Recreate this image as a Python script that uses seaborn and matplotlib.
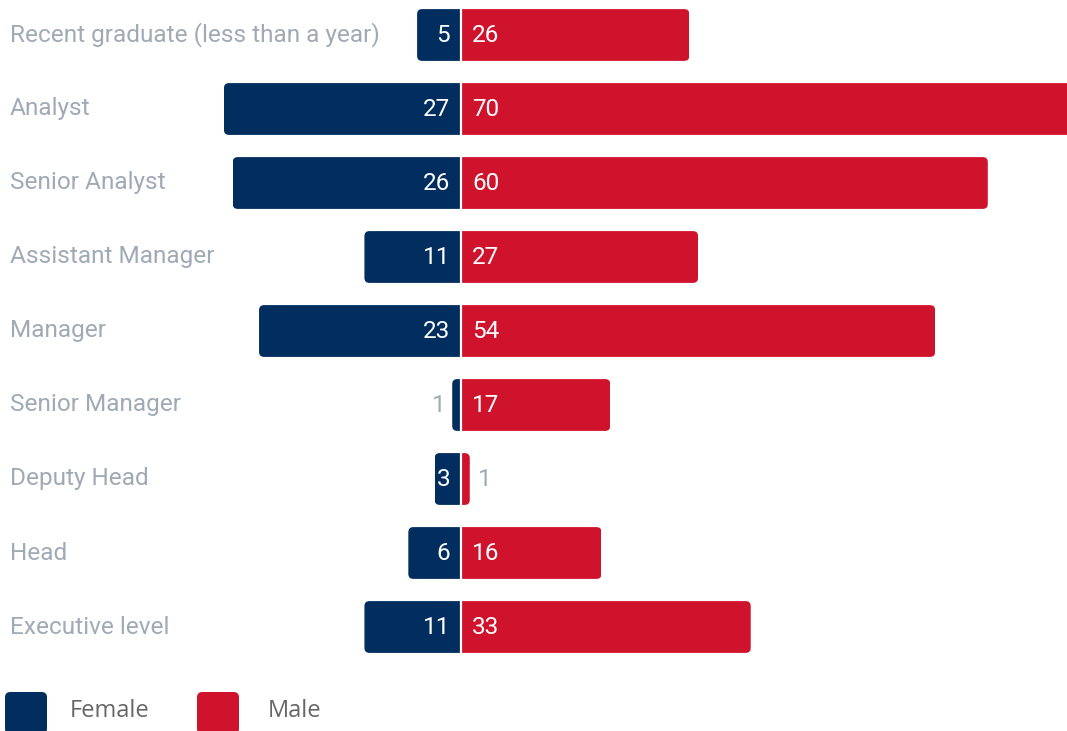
import matplotlib
matplotlib.use("Agg")
import matplotlib.pyplot as plt
from matplotlib.patches import FancyBboxPatch, Rectangle
from matplotlib.transforms import blended_transform_factory
import pandas as pd
import seaborn as sns

# Headcount by grade and gender
roles = [
    "Recent graduate (less than a year)",
    "Analyst",
    "Senior Analyst",
    "Assistant Manager",
    "Manager",
    "Senior Manager",
    "Deputy Head",
    "Head",
    "Executive level",
]
female = [5, 27, 26, 11, 23, 1, 3, 6, 11]
male = [26, 70, 60, 27, 54, 17, 1, 16, 33]
genders = ["Female", "Male"]

NAVY = "#012e5e"
RED = "#d0132d"
LABEL_GREY = "#a0aab5"
LEGEND_GREY = "#666666"

sns.set_theme(style="white")
plt.rcParams["font.family"] = ["Roboto", "DejaVu Sans"]

W, H, DPI = 1067, 731, 100
fig = plt.figure(figsize=(W / DPI, H / DPI), dpi=DPI)
ax = fig.add_axes([0, 0, 1, 1])

df = pd.DataFrame({
    "role": roles * 2,
    "gender": ["Female"] * len(roles) + ["Male"] * len(roles),
    "value": female + male,
})
df["signed"] = df.apply(lambda r: -r["value"] if r["gender"] == "Female" else r["value"], axis=1)

sns.barplot(data=df, y="role", x="signed", hue="gender", hue_order=genders,
            order=roles, dodge=False, palette=[NAVY, RED], saturation=1,
            width=0.70, orient="h", legend=False, ax=ax)

# axis ranges: centre line sits 461 px from the left, rows 74 px apart
px_per_x = 8.78
x_left = -461 / px_per_x
x_right = (W - 461) / px_per_x
row_px = 74.0
y_top = -35 / row_px
y_bot = (H - 35) / row_px
ax.set_xlim(x_left, x_right)
ax.set_ylim(y_bot, y_top)
ax.axis("off")

# replace plain bars with ones rounded on the outer end only
xu = 1 / px_per_x
yu = 1 / row_px
radius = 5 * xu
aspect = yu / xu
bars = list(ax.patches)
for p in bars:
    x, y, w, h = p.get_x(), p.get_y(), p.get_width(), p.get_height()
    if w == 0:
        continue
    col = p.get_facecolor()
    p.set_visible(False)
    x0, x1 = min(x, x + w), max(x, x + w)
    ext = 2 * radius
    bx0 = x0 - ext if x0 >= 0 else x0
    bx1 = x1 if x0 >= 0 else x1 + ext
    rb = FancyBboxPatch((bx0, y), bx1 - bx0, h,
                        boxstyle=f"round,pad=0,rounding_size={radius}",
                        mutation_aspect=aspect, facecolor=col,
                        edgecolor="none", zorder=3)
    ax.add_patch(rb)
    clip = Rectangle((x0, y - h), x1 - x0, 3 * h, transform=ax.transData)
    rb.set_clip_path(clip)

# thin white separator at zero
ax.axvline(0, color="white", lw=1.6, zorder=4)

# value labels
VFS = 17.5
gap = 11 * xu
for i, (f, m) in enumerate(zip(female, male)):
    if f * px_per_x > 24:
        ax.text(-gap, i, str(f), ha="right", va="center", color="white",
                fontsize=VFS, zorder=5)
    else:
        ax.text(-f - gap * 0.6, i, str(f), ha="right", va="center",
                color=LABEL_GREY, fontsize=VFS, zorder=5)
    if m * px_per_x > 24:
        ax.text(gap, i, str(m), ha="left", va="center", color="white",
                fontsize=VFS, zorder=5)
    else:
        ax.text(m + gap * 0.7, i, str(m), ha="left", va="center",
                color=LABEL_GREY, fontsize=VFS, zorder=5)

# category labels on the left
trans = blended_transform_factory(fig.transFigure, ax.transData)
for i, r in enumerate(roles):
    ax.text(10 / W, i, r, transform=trans, ha="left", va="center",
            color=LABEL_GREY, fontsize=17.6)

# legend
def legend_item(x_px, color, label, text_x_px):
    box = FancyBboxPatch((x_px / W, 1 - 734 / H), 42 / W, 42 / H,
                         boxstyle="round,pad=0,rounding_size=0.005",
                         mutation_aspect=W / H,
                         transform=fig.transFigure, facecolor=color,
                         edgecolor="none", clip_on=False)
    fig.patches.append(box)
    fig.text(text_x_px / W, 1 - 711 / H, label, ha="left", va="center",
             color=LEGEND_GREY, fontsize=17, family=["Open Sans", "DejaVu Sans"])

legend_item(5, NAVY, genders[0], 70)
legend_item(197, RED, genders[1], 268)

fig.savefig("out.png", dpi=DPI)
